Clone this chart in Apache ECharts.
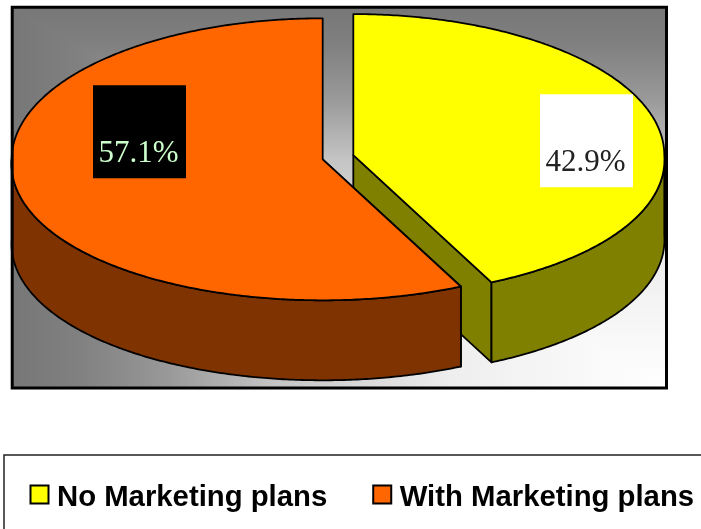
<!DOCTYPE html>
<html>
<head>
<meta charset="utf-8">
<style>html,body{margin:0;padding:0;background:#fff}#chart{width:701px;height:529px}</style>
<script src="https://cdn.jsdelivr.net/npm/echarts@6/dist/echarts.min.js"></script>
</head>
<body>
<div id="chart"></div>
<script>
// Share of firms with and without a marketing plan, drawn clockwise from twelve o'clock.
const categories = ['No Marketing plans', 'With Marketing plans'];
const shares = [42.9, 57.1];
const topColors = ['#FFFF00', '#FF6600'];
const wallColors = ['#808000', '#7F3300'];
const labelBoxColors = ['#FFFFFF', '#000000'];
const labelTextColors = ['#222222', '#CCFFCC'];
// Offset of each label box centre from the pie centre.
const labelOffsets = [[248.5, -16.5], [-198.5, -25.5]];

// Pie projection; perspective widens the near half of the ellipse a little.
const pie = { cx: 338, cy: 157.2, rx: 311, ry: 141, depth: 80, explodeX: 15.7, explodeY: 9.5, perspective: 0.033 };
const total = shares.reduce((a, b) => a + b, 0);
const startFraction = shares.map((_, i) => shares.slice(0, i).reduce((a, b) => a + b, 0) / total);

// Point on the rim at a clockwise angle from twelve o'clock.
function rim(c, a, drop) {
  const near = Math.max(0, -Math.cos(a));
  return [
    c[0] + pie.rx * Math.sin(a) * (1 + pie.perspective * near),
    c[1] - pie.ry * Math.cos(a) + (drop || 0)
  ];
}
function arcPoints(c, a0, a1, drop) {
  const n = Math.max(2, Math.ceil(Math.abs(a1 - a0) / 0.01));
  const pts = [];
  for (let i = 0; i <= n; i++) pts.push(rim(c, a0 + (a1 - a0) * i / n, drop));
  return pts;
}

function renderSlice(index) {
  return function (params, api) {
    const value = api.value(0);
    const a0 = startFraction[index] * Math.PI * 2;
    const a1 = a0 + value / total * Math.PI * 2;
    const mid = (a0 + a1) / 2;
    const c = [pie.cx + pie.explodeX * Math.sin(mid), pie.cy - pie.explodeY * Math.cos(mid)];
    const stroke = { stroke: '#000', lineWidth: 1.8, lineJoin: 'round' };
    const children = [];
    const addPoly = (points, fill) => children.push({
      type: 'polygon', shape: { points }, style: Object.assign({ fill }, stroke)
    });

    // Flat cut faces that look towards the viewer.
    [a0, a1].forEach(a => {
      const p = rim(c, a);
      if (p[0] - c[0] > 1 && p[1] > c[1]) {
        addPoly([c, p, [p[0], p[1] + pie.depth], [c[0], c[1] + pie.depth]], wallColors[index]);
      }
    });

    // Curved outer wall: the part of the rim on the near side of the ellipse.
    const wa0 = Math.max(a0, Math.PI / 2);
    const wa1 = Math.min(a1, Math.PI * 1.5);
    if (wa1 > wa0) {
      addPoly(arcPoints(c, wa0, wa1).concat(arcPoints(c, wa1, wa0, pie.depth)), wallColors[index]);
    }

    // Top face.
    addPoly([c].concat(arcPoints(c, a0, a1)), topColors[index]);

    // Value label on a square plate.
    const off = labelOffsets[index];
    const lx = pie.cx + off[0];
    const ly = pie.cy + off[1];
    children.push({
      type: 'rect',
      shape: { x: lx - 46.5, y: ly - 46.5, width: 93, height: 93 },
      style: { fill: labelBoxColors[index] }
    });
    children.push({
      type: 'text',
      style: {
        x: lx - 1, y: ly + 37.5, text: value.toFixed(1) + '%',
        fill: labelTextColors[index], align: 'center', verticalAlign: 'bottom',
        font: '31px "Liberation Serif"'
      }
    });
    return { type: 'group', children };
  };
}

// Rectangular backdrop shaded from the lower right corner: a vertical ramp across the whole
// frame, with a horizontal ramp over the triangle below the diagonal.
const frame = { x: 12.2, y: 7.3, w: 654.3, h: 380.7 };
const shadeStops = [
  { offset: 0, color: '#FFFFFF' },
  { offset: 0.33, color: '#EEEEEE' },
  { offset: 0.6, color: '#C4C4C4' },
  { offset: 0.76, color: '#999999' },
  { offset: 0.9, color: '#808080' },
  { offset: 1, color: '#777777' }
];
const x0 = frame.x, y0 = frame.y, x1 = frame.x + frame.w, y1 = frame.y + frame.h;

const legendFont = { fontFamily: 'Liberation Sans', fontWeight: 'bold', fontSize: 29.3, color: '#000' };

const option = {
  animation: false,
  backgroundColor: '#fff',
  graphic: [
    { type: 'rect', z: 0, shape: { x: x0, y: y0, width: frame.w, height: frame.h },
      style: { fill: new echarts.graphic.LinearGradient(0, 1, 0, 0, shadeStops) } },
    { type: 'polygon', z: 0, shape: { points: [[x0, y0], [x1, y1], [x0, y1]] },
      style: { fill: new echarts.graphic.LinearGradient(1, 0, 0, 0, shadeStops) } },
    { type: 'rect', z: 5, shape: { x: x0, y: y0, width: frame.w, height: frame.h },
      style: { fill: 'none', stroke: '#000', lineWidth: 3 } },
    // Legend panel runs off the right and bottom of the page.
    { type: 'rect', z: 0, shape: { x: 4, y: 455, width: 720, height: 100 },
      style: { fill: '#fff', stroke: '#222', lineWidth: 1.5 } }
  ],
  legend: {
    data: categories,
    left: 29.5,
    top: 482.5,
    padding: 0,
    itemWidth: 18,
    itemHeight: 18,
    itemGap: 45,
    icon: 'rect',
    itemStyle: { borderColor: '#000', borderWidth: 2 },
    formatter: name => '{t|' + name + '}',
    textStyle: Object.assign({}, legendFont, {
      padding: [0, 0, 0, 3.5],
      // A tall line with the text sitting at its foot lowers the words against the swatch.
      rich: { t: Object.assign({}, legendFont, { height: 30, lineHeight: 36, verticalAlign: 'bottom' }) }
    })
  },
  series: categories.map((name, i) => ({
    type: 'custom',
    name,
    coordinateSystem: 'none',
    z: 2 + i,
    silent: true,
    itemStyle: { color: topColors[i] },
    renderItem: renderSlice(i),
    data: [[shares[i]]]
  }))
};

echarts.init(document.getElementById('chart'), null, { renderer: 'canvas' }).setOption(option);
</script>
</body>
</html>
